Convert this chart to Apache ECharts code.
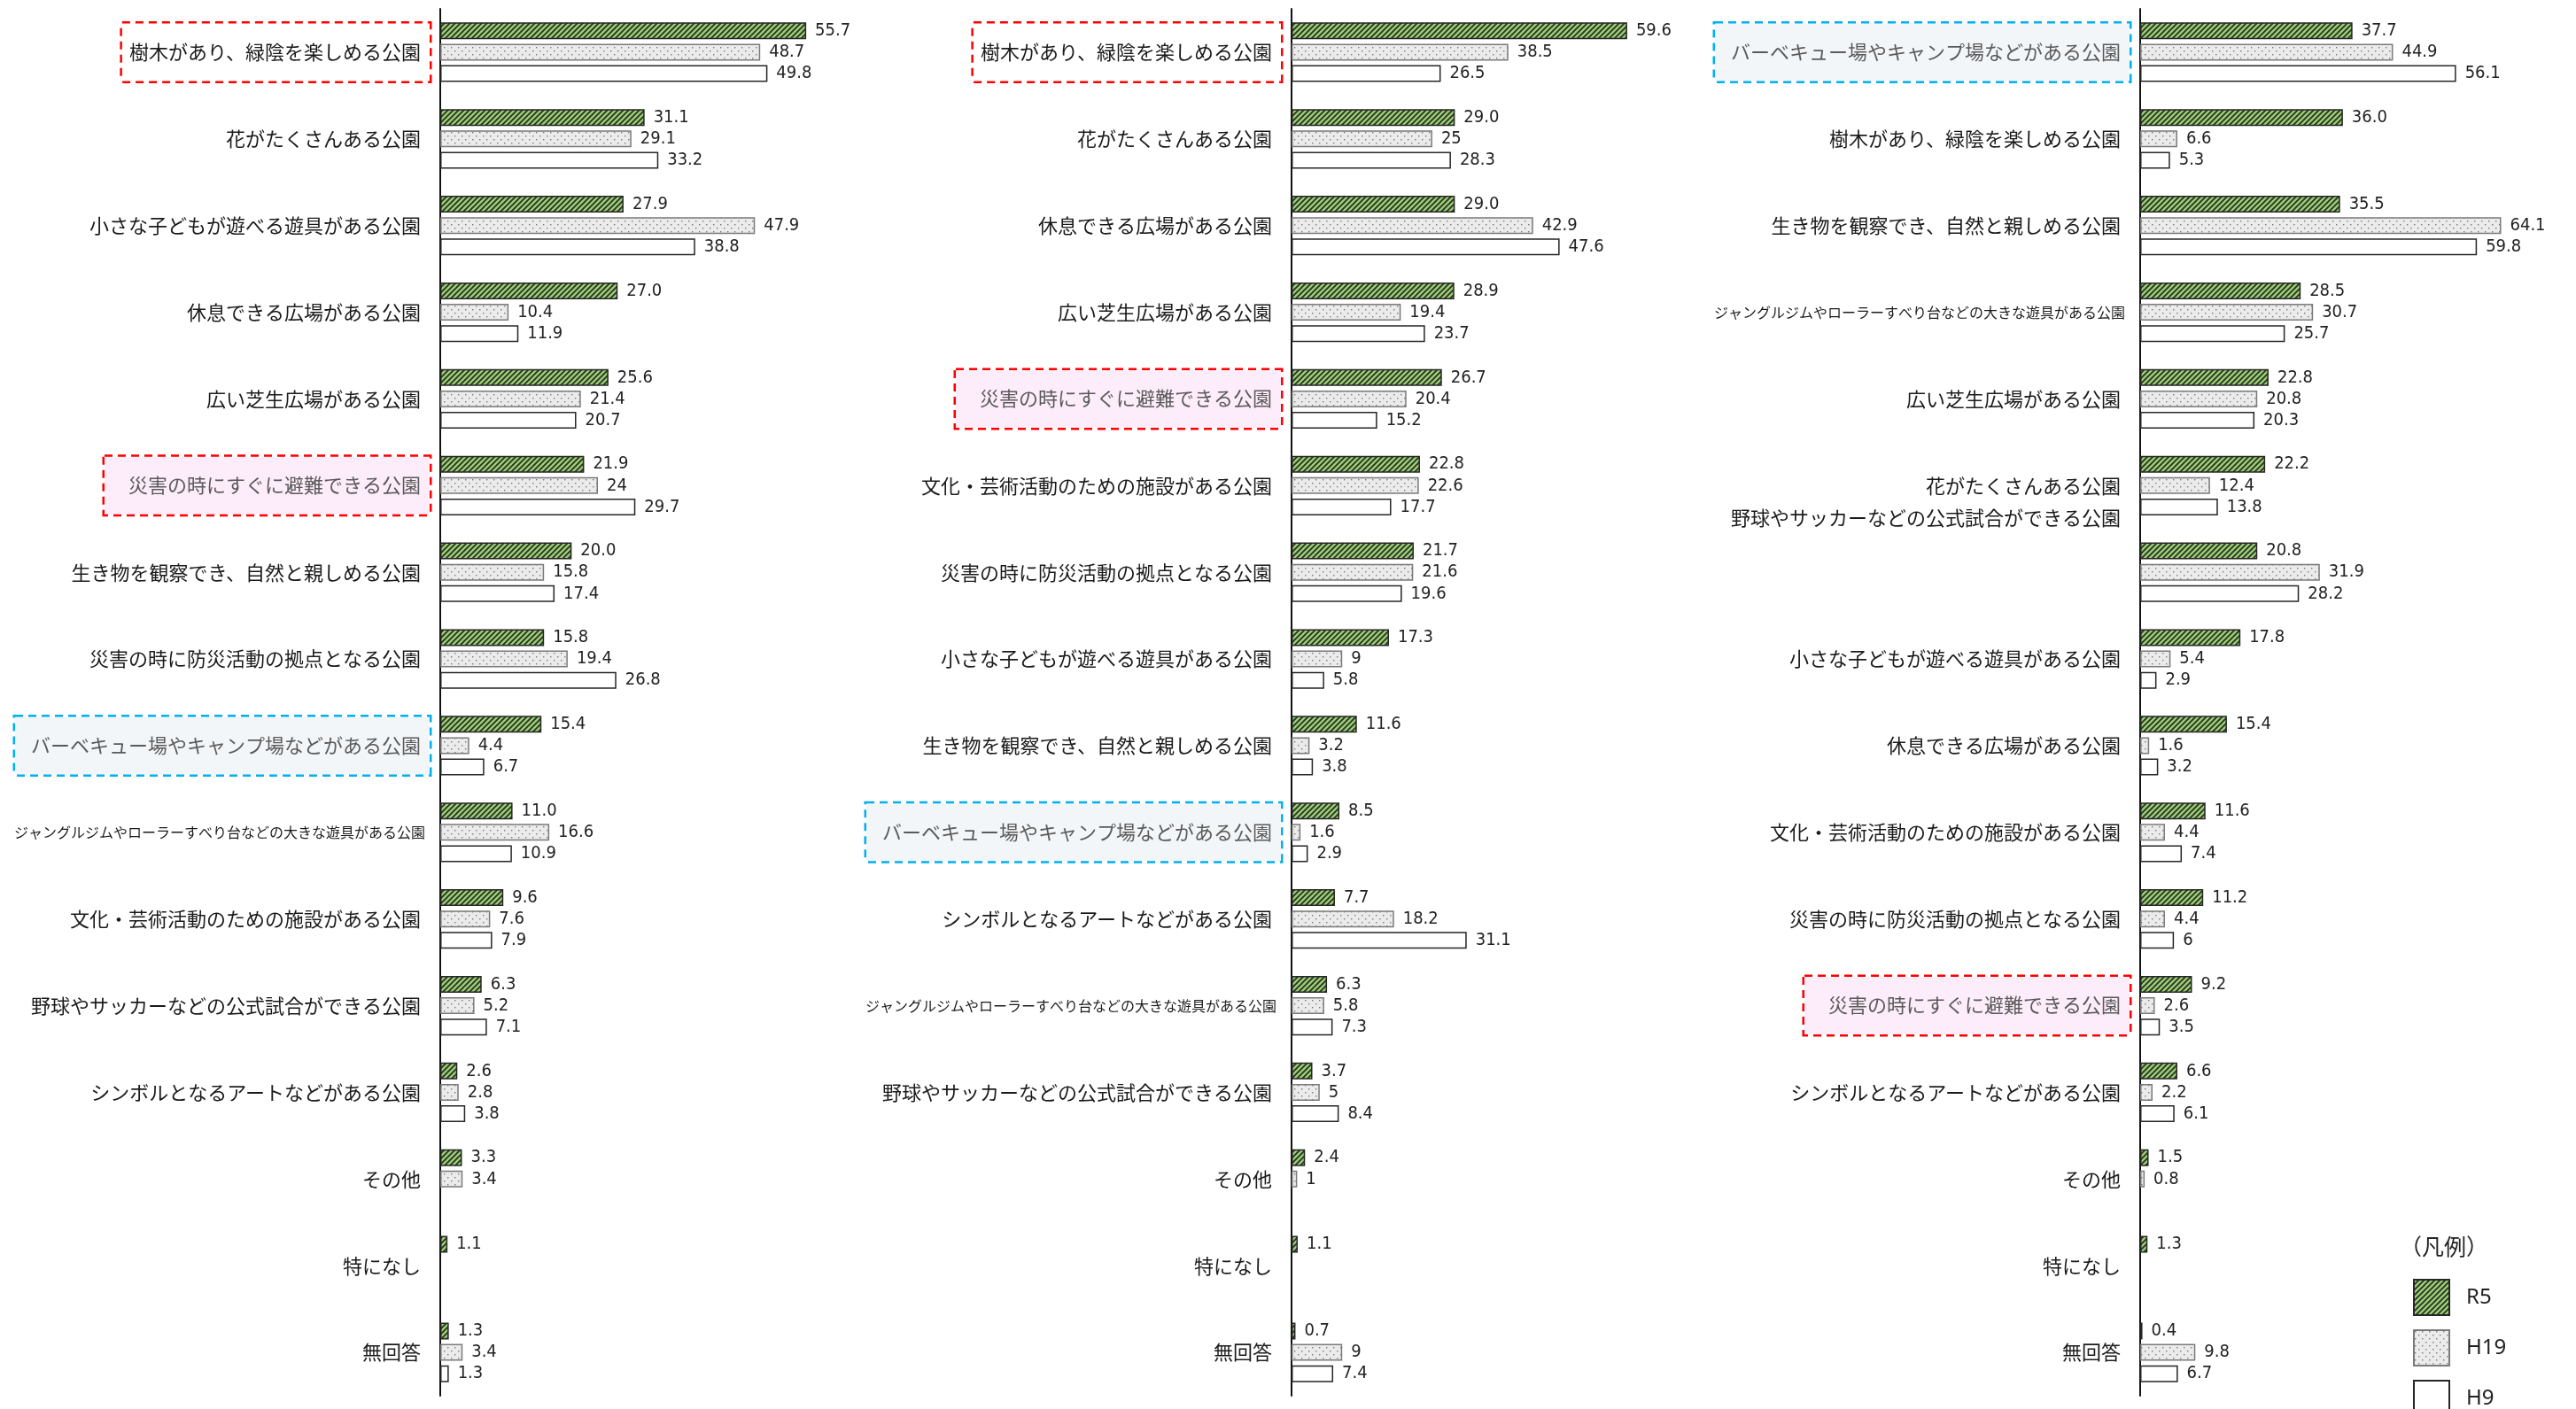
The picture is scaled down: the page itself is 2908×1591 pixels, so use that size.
<!DOCTYPE html>
<html>
<head>
<meta charset="utf-8">
<script src="https://cdn.jsdelivr.net/npm/echarts@6/dist/echarts.min.js"></script>
<style>
  html, body { margin: 0; background: #fff; }
  #chart { width: 2908px; height: 1591px; }
</style>
</head>
<body>
<div id="chart"></div>
<script>
// 凡例
const seriesNames = ['R5', 'H19', 'H9'];

// 左
const cats1 = ['樹木があり、緑陰を楽しめる公園', '花がたくさんある公園', '小さな子どもが遊べる遊具がある公園', '休息できる広場がある公園', '広い芝生広場がある公園', '災害の時にすぐに避難できる公園', '生き物を観察でき、自然と親しめる公園', '災害の時に防災活動の拠点となる公園', 'バーベキュー場やキャンプ場などがある公園', 'ジャングルジムやローラーすべり台などの大きな遊具がある公園', '文化・芸術活動のための施設がある公園', '野球やサッカーなどの公式試合ができる公園', 'シンボルとなるアートなどがある公園', 'その他', '特になし', '無回答'];
const r5_1 = [55.7, 31.1, 27.9, 27.0, 25.6, 21.9, 20.0, 15.8, 15.4, 11.0, 9.6, 6.3, 2.6, 3.3, 1.1, 1.3];
const h19_1 = [48.7, 29.1, 47.9, 10.4, 21.4, 24, 15.8, 19.4, 4.4, 16.6, 7.6, 5.2, 2.8, 3.4, null, 3.4];
const h9_1 = [49.8, 33.2, 38.8, 11.9, 20.7, 29.7, 17.4, 26.8, 6.7, 10.9, 7.9, 7.1, 3.8, null, null, 1.3];

// 中
const cats2 = ['樹木があり、緑陰を楽しめる公園', '花がたくさんある公園', '休息できる広場がある公園', '広い芝生広場がある公園', '災害の時にすぐに避難できる公園', '文化・芸術活動のための施設がある公園', '災害の時に防災活動の拠点となる公園', '小さな子どもが遊べる遊具がある公園', '生き物を観察でき、自然と親しめる公園', 'バーベキュー場やキャンプ場などがある公園', 'シンボルとなるアートなどがある公園', 'ジャングルジムやローラーすべり台などの大きな遊具がある公園', '野球やサッカーなどの公式試合ができる公園', 'その他', '特になし', '無回答'];
const r5_2 = [59.6, 29.0, 29.0, 28.9, 26.7, 22.8, 21.7, 17.3, 11.6, 8.5, 7.7, 6.3, 3.7, 2.4, 1.1, 0.7];
const h19_2 = [38.5, 25, 42.9, 19.4, 20.4, 22.6, 21.6, 9, 3.2, 1.6, 18.2, 5.8, 5, 1, null, 9];
const h9_2 = [26.5, 28.3, 47.6, 23.7, 15.2, 17.7, 19.6, 5.8, 3.8, 2.9, 31.1, 7.3, 8.4, null, null, 7.4];

// 右
const cats3 = ['バーベキュー場やキャンプ場などがある公園', '樹木があり、緑陰を楽しめる公園', '生き物を観察でき、自然と親しめる公園', 'ジャングルジムやローラーすべり台などの大きな遊具がある公園', '広い芝生広場がある公園', '花がたくさんある公園', '野球やサッカーなどの公式試合ができる公園', '小さな子どもが遊べる遊具がある公園', '休息できる広場がある公園', '文化・芸術活動のための施設がある公園', '災害の時に防災活動の拠点となる公園', '災害の時にすぐに避難できる公園', 'シンボルとなるアートなどがある公園', 'その他', '特になし', '無回答'];
const r5_3 = [37.7, 36.0, 35.5, 28.5, 22.8, 22.2, 20.8, 17.8, 15.4, 11.6, 11.2, 9.2, 6.6, 1.5, 1.3, 0.4];
const h19_3 = [44.9, 6.6, 64.1, 30.7, 20.8, 12.4, 31.9, 5.4, 1.6, 4.4, 4.4, 2.6, 2.2, 0.8, null, 9.8];
const h9_3 = [56.1, 5.3, 59.8, 25.7, 20.3, 13.8, 28.2, 2.9, 3.2, 7.4, 6, 3.5, 6.1, null, null, 6.7];

const JP = "'Noto Sans CJK JP', 'Noto Sans', sans-serif";
const NUM = "'Liberation Sans Narrow', 'DejaVu Sans Condensed', 'Liberation Sans', sans-serif";

// 枠付きラベル
const boxed = [
  { '樹木があり、緑陰を楽しめる公園': 'tree', '災害の時にすぐに避難できる公園': 'dis', 'バーベキュー場やキャンプ場などがある公園': 'bbq' },
  { '樹木があり、緑陰を楽しめる公園': 'tree', '災害の時にすぐに避難できる公園': 'dis', 'バーベキュー場やキャンプ場などがある公園': 'bbq' },
  { 'バーベキュー場やキャンプ場などがある公園': 'bbq', '災害の時にすぐに避難できる公園': 'dis', '野球やサッカーなどの公式試合ができる公園': 'up' }
];

// 模様
function hatch() {
  const c = document.createElement('canvas');
  c.width = 6; c.height = 6;
  const g = c.getContext('2d');
  g.fillStyle = '#9ccb78';
  g.fillRect(0, 0, 6, 6);
  g.strokeStyle = '#24301c';
  g.lineWidth = 1.7;
  g.beginPath();
  g.moveTo(-1, 7); g.lineTo(7, -1);
  g.moveTo(-4, 4); g.lineTo(4, -4);
  g.moveTo(2, 10); g.lineTo(10, 2);
  g.stroke();
  return c;
}
function dots() {
  const c = document.createElement('canvas');
  c.width = 8; c.height = 8;
  const g = c.getContext('2d');
  g.fillStyle = '#ebebeb';
  g.fillRect(0, 0, 8, 8);
  g.fillStyle = '#7a7a7a';
  g.fillRect(1, 1, 1.4, 1.4);
  g.fillRect(5, 5, 1.4, 1.4);
  return c;
}

const styles = [
  { color: { image: hatch(), repeat: 'repeat' }, borderColor: '#262626', borderWidth: 1.5 },
  { color: { image: dots(), repeat: 'repeat' }, borderColor: '#7a7a7a', borderWidth: 1.5 },
  { color: '#ffffff', borderColor: '#262626', borderWidth: 1.5 }
];

const rich = {
  n: { fontSize: 22, fontFamily: JP, color: '#1a1a1a', padding: [0, 10, 0, 0] },
  j: { fontSize: 16, fontFamily: JP, color: '#1a1a1a', padding: [0, 5, 0, 0] },
  up: { fontSize: 22, fontFamily: JP, color: '#1a1a1a', lineHeight: 26, padding: [0, 10, 124, 0] },
  tree: { fontSize: 22, fontFamily: JP, color: '#1a1a1a', lineHeight: 24, backgroundColor: '#ffffff', borderColor: '#ff0000', borderWidth: 2.5, borderType: [9, 6], padding: [21, 10, 22, 8] },
  dis: { fontSize: 22, fontFamily: JP, color: '#5a5a5a', lineHeight: 24, backgroundColor: '#fdecfa', borderColor: '#ff0000', borderWidth: 2.5, borderType: [9, 6], padding: [21, 10, 22, 27] },
  bbq: { fontSize: 22, fontFamily: JP, color: '#5a5a5a', lineHeight: 24, backgroundColor: '#f3f6f9', borderColor: '#00b0f0', borderWidth: 2.5, borderType: [9, 6], padding: [21, 10, 22, 18] }
};

const panels = [
  { cats: cats1, vals: [r5_1, h19_1, h9_1], left: 497, max: 60 },
  { cats: cats2, vals: [r5_2, h19_2, h9_2], left: 1458, max: 70 },
  { cats: cats3, vals: [r5_3, h19_3, h9_3], left: 2416, max: 70 }
];

const grid = [], xAxis = [], yAxis = [], series = [];
panels.forEach((p, i) => {
  grid.push({ left: p.left, top: 10, width: 445, height: 1566 });
  xAxis.push({ gridIndex: i, type: 'value', min: 0, max: p.max, show: false });
  yAxis.push({
    gridIndex: i,
    type: 'category',
    inverse: true,
    data: p.cats,
    axisLine: { show: true, lineStyle: { color: '#111', width: 2 } },
    axisTick: { show: false },
    splitLine: { show: false },
    axisLabel: {
      interval: 0,
      margin: 12,
      formatter: (v) => {
        let k = boxed[i][v] || (v.length > 25 ? 'j' : 'n');
        return '{' + k + '|' + v + '}';
      },
      rich: rich
    }
  });
  seriesNames.forEach((name, s) => {
    series.push({
      name: name,
      type: 'bar',
      xAxisIndex: i,
      yAxisIndex: i,
      data: p.vals[s],
      barWidth: 19,
      barGap: '27%',
      itemStyle: styles[s],
      label: {
        show: true,
        position: 'right',
        distance: 10,
        fontSize: 20,
        fontFamily: NUM,
        color: '#222',
        formatter: (q) => q.value == null ? '' : (s === 0 ? q.value.toFixed(1) : String(q.value))
      }
    });
  });
});

const chart = echarts.init(document.getElementById('chart'));
chart.setOption({
  animation: false,
  backgroundColor: '#ffffff',
  title: {
    text: '（凡例）',
    left: 2704,
    top: 1390,
    textStyle: { fontSize: 25, fontWeight: 'normal', fontFamily: JP, color: '#222' }
  },
  legend: {
    data: seriesNames,
    orient: 'vertical',
    left: 2719,
    top: 1439,
    height: 220,
    icon: 'rect',
    itemWidth: 40,
    itemHeight: 40,
    itemGap: 15,
    textStyle: { fontSize: 24, fontFamily: "'Noto Sans', sans-serif", color: '#222', padding: [0, 0, 0, 14] }
  },
  grid: grid,
  xAxis: xAxis,
  yAxis: yAxis,
  series: series
});
</script>
</body>
</html>
